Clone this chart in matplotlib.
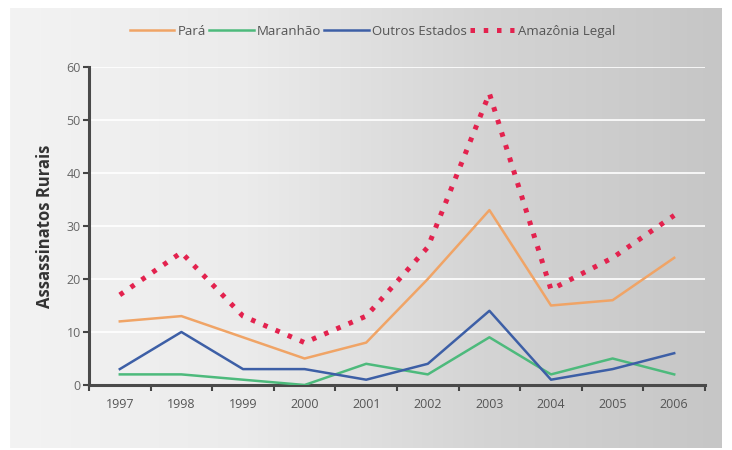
import numpy as np
import matplotlib.pyplot as plt
from matplotlib.colors import LinearSegmentedColormap

# Data
anos = ['1997', '1998', '1999', '2000', '2001', '2002', '2003', '2004', '2005', '2006']
para = [12, 13, 9, 5, 8, 20, 33, 15, 16, 24]
maranhao = [2, 2, 1, 0, 4, 2, 9, 2, 5, 2]
outros = [3, 10, 3, 3, 1, 4, 14, 1, 3, 6]
amazonia = [17, 25, 13, 8, 13, 26, 55, 18, 24, 32]
yticks = [0, 10, 20, 30, 40, 50, 60]

plt.rcParams['font.family'] = ['Open Sans', 'DejaVu Sans']

fig = plt.figure(figsize=(7.32, 4.5), dpi=100, facecolor='white')

# background panel with horizontal grey gradient
bg = fig.add_axes([10 / 732, 2 / 450, 712 / 732, 440 / 450])
cmap = LinearSegmentedColormap.from_list('bg', ['#f3f3f3', '#ebebeb', '#d4d4d4', '#c6c6c6'])
grad = np.linspace(0, 1, 256).reshape(1, -1)
bg.imshow(grad, aspect='auto', cmap=cmap, extent=[0, 1, 0, 1])
bg.set_axis_off()

ax = fig.add_axes([89 / 732, 1 - 385 / 450, 616 / 732, 318 / 450])
ax.patch.set_alpha(0)

x = np.arange(len(anos))
ax.plot(x, para, color='#f0a466', lw=1.8, label='Pará', zorder=3)
ax.plot(x, maranhao, color='#4dba7c', lw=1.8, label='Maranhão', zorder=3)
ax.plot(x, outros, color='#3d5fa6', lw=1.8, label='Outros Estados', zorder=3)
ax.plot(x, amazonia, color='#e3224e', lw=3.6, linestyle=(0, (0.9, 1.75)),
        label='Amazônia Legal', zorder=4)

ax.set_xlim(-0.5, len(anos) - 0.5)
ax.set_ylim(0, 60)
ax.set_yticks(yticks)
ax.set_xticks(x)
ax.set_xticklabels(anos)
ax.set_xticks(np.arange(-0.5, len(anos)), minor=True)
ax.tick_params(axis='x', which='major', length=0, pad=9, labelsize=9, labelcolor='#555555')
ax.tick_params(axis='x', which='minor', length=4, width=1.5, color='#444444', direction='out')
ax.tick_params(axis='y', length=4, width=1.5, color='#444444', labelsize=9,
               labelcolor='#666666', pad=2)

ax.grid(axis='y', color='white', lw=1.2, zorder=1)
ax.set_axisbelow(True)

for s in ['top', 'right']:
    ax.spines[s].set_visible(False)
for s in ['left', 'bottom']:
    ax.spines[s].set_color('#4a4a4a')
    ax.spines[s].set_linewidth(2.2)

ax.set_ylabel('Assassinatos Rurais', fontsize=12, fontweight='bold', color='#333333', labelpad=9)

leg = ax.legend(loc='lower center', bbox_to_anchor=(0.46, 1.055), ncol=4, frameon=False,
                fontsize=9.5, handlelength=3.4, handletextpad=0.25, columnspacing=0.2,
                labelcolor='#555555')

fig.savefig('out.png', dpi=100, facecolor='white')
